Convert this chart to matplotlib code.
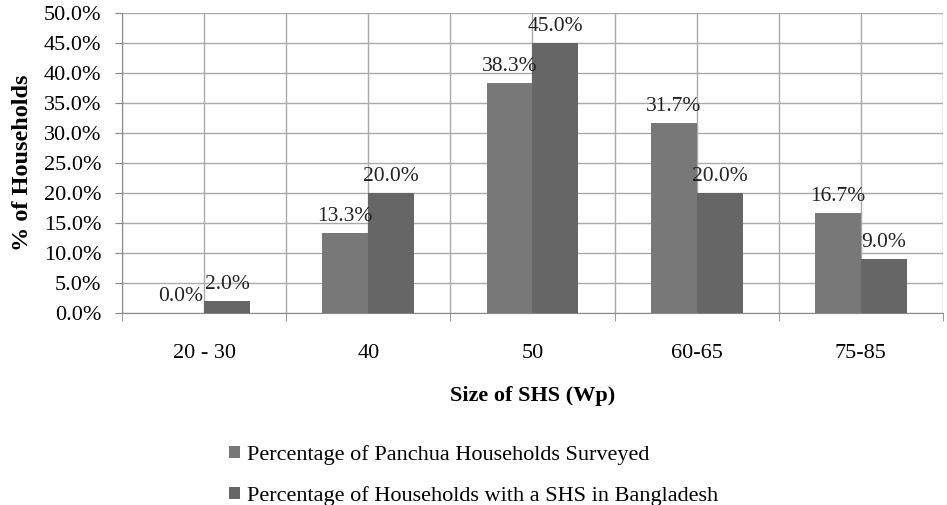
import numpy as np
import matplotlib.pyplot as plt
from matplotlib.ticker import FuncFormatter, MultipleLocator

sizes = ["20 - 30", "40", "50", "60-65", "75-85"]
panchua = [0.0, 13.3, 38.3, 31.7, 16.7]
bangladesh = [2.0, 20.0, 45.0, 20.0, 9.0]
series_names = ["Percentage of Panchua Households Surveyed",
                "Percentage of Households with a SHS in Bangladesh"]

plt.rcParams['font.family'] = ['Liberation Serif', 'DejaVu Serif']

fig = plt.figure(figsize=(9.47, 5.05), dpi=100)
ax = fig.add_axes([0.1288, 0.380, 0.8670, 0.594])

x = np.arange(len(sizes))
w = 0.28
b1 = ax.bar(x - w / 2, panchua, w, color="#787878", zorder=3)
b2 = ax.bar(x + w / 2, bangladesh, w, color="#666666", zorder=3)

for bars, vals in ((b1, panchua), (b2, bangladesh)):
    for r, v in zip(bars, vals):
        ax.annotate(f"{v:.1f}%", (r.get_x() + r.get_width() / 2, v),
                    xytext=(0, 5), textcoords="offset points",
                    ha="center", va="bottom", fontsize=15.5, color="#222222")

ax.set_xlim(-0.5, len(sizes) - 0.5)
ax.set_ylim(0, 50)
ax.yaxis.set_major_locator(MultipleLocator(5))
ax.yaxis.set_major_formatter(FuncFormatter(lambda v, p: f"{v:.1f}%"))

# gridlines at category centres and boundaries
for gx in np.arange(-0.5, len(sizes), 0.5):
    ax.axvline(gx, color="#aaaaaa", lw=1, zorder=1)
ax.grid(axis="y", color="#aaaaaa", lw=1, zorder=1)

ax.set_xticks(x)
ax.set_xticklabels(sizes)
ax.set_xticks(np.arange(-0.5, len(sizes), 1), minor=True)
ax.tick_params(axis="x", which="major", length=0, pad=22, labelsize=16)
ax.tick_params(axis="x", which="minor", length=6, color="#888888")
ax.tick_params(axis="y", length=5, color="#888888", labelsize=16, pad=10)

for s in ("top", "right"):
    ax.spines[s].set_visible(False)
for s in ("left", "bottom"):
    ax.spines[s].set_color("#888888")

ax.set_xlabel("Size of SHS (Wp)", fontsize=16, fontweight="bold", labelpad=17)
ax.set_ylabel("% of Households", fontsize=17.5, fontweight="bold", labelpad=8)

ax.legend([b1, b2], series_names, loc="upper left", bbox_to_anchor=(0.12, -0.41),
          frameon=False, fontsize=16, handlelength=0.5, handleheight=0.5,
          handletextpad=0.3, labelspacing=0.95, borderaxespad=0)

fig.savefig("out.png", dpi=100)
